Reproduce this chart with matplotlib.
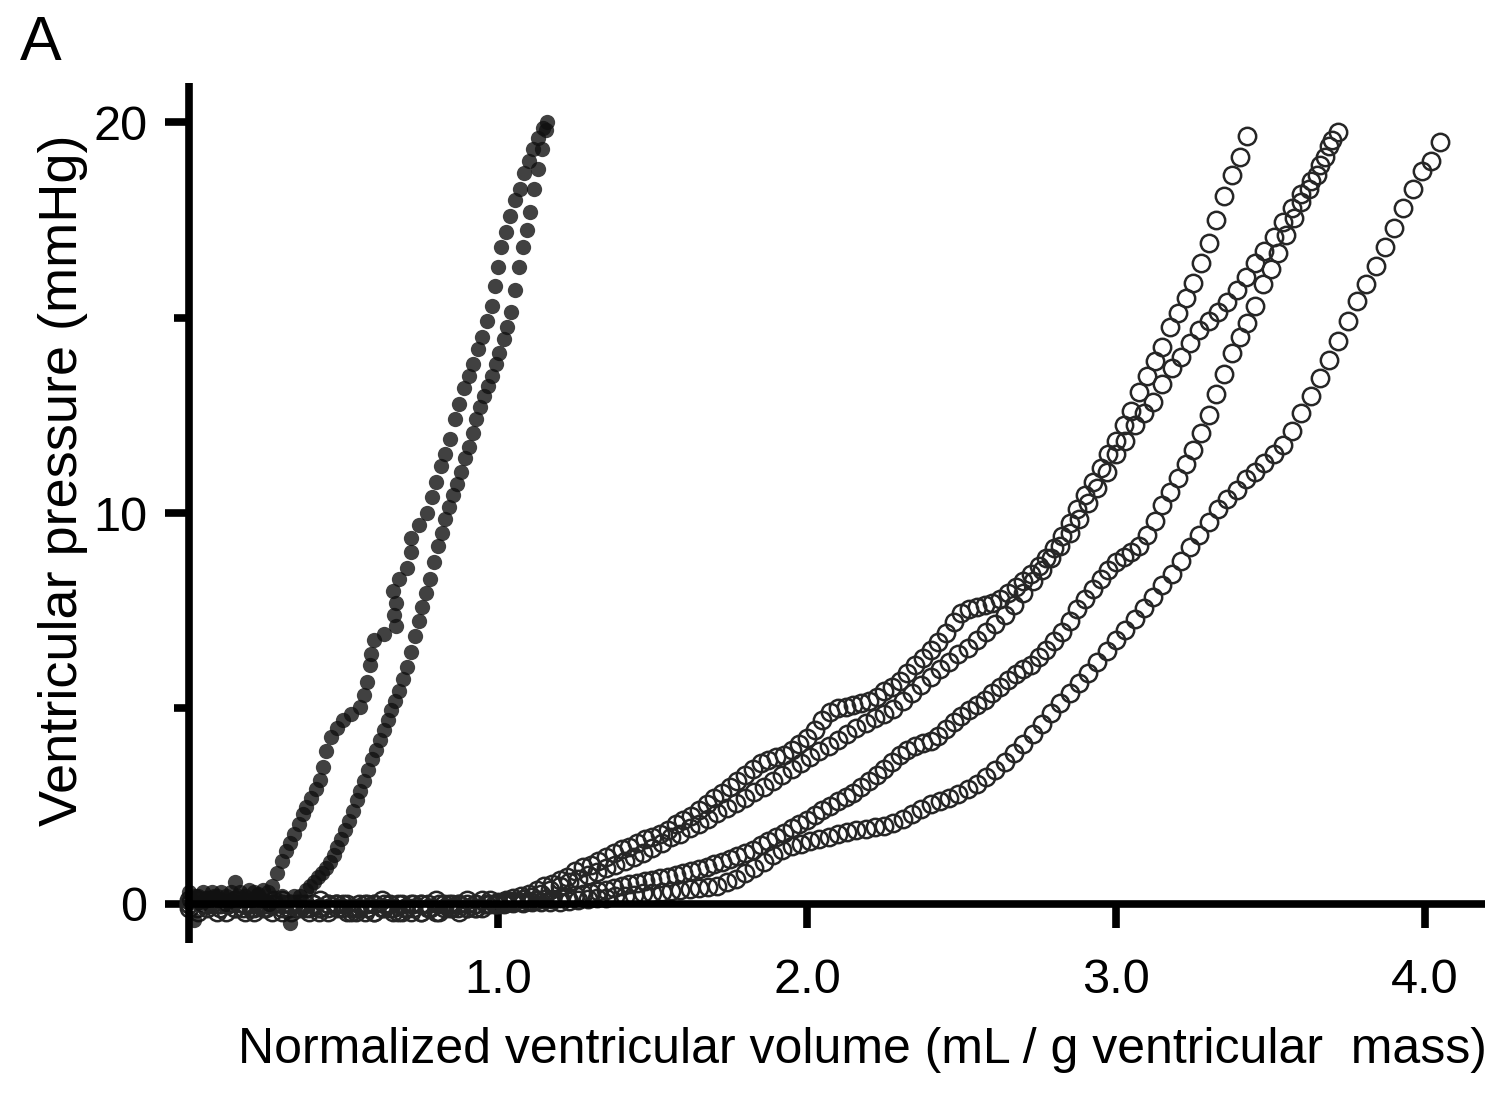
import numpy as np
import matplotlib
matplotlib.use("Agg")
import matplotlib.pyplot as plt

plt.rcParams['font.family'] = ['Liberation Sans', 'DejaVu Sans']

# Open circles: four hearts, volume infused in constant steps (mL/g per sample)
o1_dv = 0.025
o1_p = [0.1, 0.1, 0.0, 0.1, 0.0, 0.0, 0.1, 0.0, -0.1, 0.0,
        0.0, 0.1, 0.0, 0.0, -0.1, 0.0, 0.0, 0.1, 0.0, 0.0,
        0.0, -0.1, 0.0, 0.0, 0.0, 0.1, 0.0, 0.0, -0.1, 0.0,
        0.0, 0.0, 0.1, 0.0, 0.0, 0.0, 0.1, 0.0, 0.1, 0.1,
        0.05, 0.1, 0.15, 0.2, 0.25, 0.35, 0.45, 0.5, 0.6, 0.7,
        0.85, 0.95, 1.0, 1.1, 1.2, 1.3, 1.4, 1.45, 1.55, 1.65,
        1.72, 1.8, 1.9, 2.05, 2.15, 2.25, 2.4, 2.55, 2.7, 2.85,
        3.0, 3.15, 3.3, 3.45, 3.6, 3.68, 3.75, 3.82, 3.95, 4.1,
        4.25, 4.45, 4.7, 4.9, 5.0, 5.05, 5.1, 5.15, 5.2, 5.3,
        5.45, 5.55, 5.7, 5.9, 6.1, 6.3, 6.5, 6.7, 6.93, 7.2,
        7.45, 7.55, 7.6, 7.65, 7.7, 7.8, 7.95, 8.1, 8.25, 8.45,
        8.65, 8.85, 9.1, 9.4, 9.75, 10.1, 10.45, 10.8, 11.15, 11.5,
        11.85, 12.25, 12.6, 13.1, 13.5, 13.9, 14.25, 14.75, 15.12, 15.5,
        15.88, 16.4, 16.9, 17.5, 18.1, 18.65, 19.1, 19.65]

o2_dv = 0.03
o2_p = [0.0, 0.1, 0.1, 0.0, 0.0, 0.1, 0.0, -0.1, 0.0, 0.0,
        0.1, 0.0, 0.0, -0.1, -0.1, 0.0, 0.0, 0.0, -0.1, 0.0,
        0.0, 0.0, -0.1, 0.0, 0.0, 0.0, -0.1, 0.0, 0.0, 0.0,
        0.0, 0.0, 0.0, 0.0,
        0.05, 0.08, 0.12, 0.18, 0.25, 0.35, 0.45, 0.55, 0.64, 0.73,
        0.82, 0.92, 1.0, 1.1, 1.2, 1.3, 1.42, 1.55, 1.7, 1.8,
        1.93, 2.05, 2.18, 2.32, 2.45, 2.58, 2.72, 2.86, 3.0, 3.15,
        3.3, 3.45, 3.6, 3.75, 3.9, 4.05, 4.2, 4.35, 4.5, 4.62,
        4.75, 4.85, 4.98, 5.2, 5.4, 5.6, 5.8, 6.0, 6.2, 6.4,
        6.55, 6.75, 6.95, 7.15, 7.4, 7.65, 7.95, 8.25, 8.55, 8.85,
        9.15, 9.5, 9.85, 10.25, 10.65, 11.05, 11.5, 11.85, 12.25, 12.55,
        12.85, 13.3, 13.7, 14.0, 14.35, 14.68, 14.9, 15.15, 15.4, 15.7,
        16.05, 16.4, 16.7, 17.05, 17.45, 17.8, 18.15, 18.5, 18.9, 19.4,
        19.75]

o3_dv = 0.025
o3_p = [0.0, -0.1, 0.0, 0.0, -0.1, 0.0, -0.1, -0.1, 0.0, 0.0,
        -0.1, 0.0, -0.1, -0.1, 0.0, -0.1, 0.0, -0.1, -0.1, 0.0,
        -0.1, -0.2, -0.1, -0.1, -0.2, -0.1, -0.1, -0.2, -0.1, -0.1,
        -0.2, -0.1, -0.2, -0.1, -0.1, -0.2, -0.1, -0.1, -0.1, 0.0,
        0.0, 0.02, 0.04, 0.06, 0.08, 0.1, 0.12, 0.13, 0.15, 0.18,
        0.22, 0.25, 0.28, 0.32, 0.35, 0.4, 0.45, 0.5, 0.54, 0.58,
        0.62, 0.66, 0.7, 0.75, 0.8, 0.85, 0.9, 0.95, 1.02, 1.08,
        1.15, 1.22, 1.3, 1.38, 1.5, 1.6, 1.7, 1.82, 1.95, 2.05,
        2.15, 2.28, 2.4, 2.5, 2.62, 2.74, 2.85, 3.0, 3.15, 3.3,
        3.45, 3.62, 3.8, 3.95, 4.05, 4.12, 4.18, 4.3, 4.48, 4.65,
        4.8, 4.95, 5.1, 5.22, 5.4, 5.55, 5.72, 5.88, 6.0, 6.12,
        6.32, 6.5, 6.72, 6.95, 7.25, 7.55, 7.8, 8.05, 8.3, 8.55,
        8.75, 8.88, 9.0, 9.15, 9.45, 9.8, 10.2, 10.55, 10.9, 11.25,
        11.6, 12.05, 12.5, 13.05, 13.55, 14.1, 14.5, 14.85, 15.3, 15.85,
        16.25, 16.65, 17.1, 17.55, 17.95, 18.3, 18.65, 19.1, 19.55]

o4_dv = 0.03
o4_p = [-0.1, -0.2, -0.1, -0.2, -0.2, -0.1, -0.2, -0.2, -0.1, -0.2,
        -0.2, -0.2, -0.1, -0.2, -0.2, -0.2, -0.1, -0.2, -0.2, -0.2,
        -0.2, -0.1, -0.2, -0.2, -0.2, -0.2, -0.1, -0.2, -0.1, -0.1,
        -0.1, -0.1, 0.0, 0.0,
        0.0, 0.02, 0.03, 0.04, 0.05, 0.05, 0.06, 0.08, 0.1, 0.12,
        0.14, 0.16, 0.19, 0.21, 0.24, 0.27, 0.29, 0.31, 0.33, 0.35,
        0.37, 0.4, 0.43, 0.47, 0.55, 0.65, 0.78, 0.92, 1.08, 1.25,
        1.38, 1.47, 1.54, 1.6, 1.66, 1.72, 1.78, 1.84, 1.88, 1.92,
        1.96, 2.0, 2.08, 2.18, 2.3, 2.42, 2.55, 2.63, 2.72, 2.82,
        2.95, 3.08, 3.24, 3.42, 3.62, 3.85, 4.1, 4.35, 4.6, 4.88,
        5.14, 5.4, 5.65, 5.92, 6.2, 6.48, 6.75, 7.02, 7.3, 7.58,
        7.85, 8.15, 8.45, 8.78, 9.12, 9.45, 9.78, 10.1, 10.35, 10.6,
        10.88, 11.05, 11.28, 11.5, 11.75, 12.1, 12.55, 13.0, 13.45, 13.92,
        14.4, 14.92, 15.42, 15.85, 16.32, 16.8, 17.3, 17.8, 18.3, 18.75,
        19.0, 19.5]

# Filled circles: two hearts (irregular sampling, read point by point)
f1_v = [0.0, 0.015, 0.03, 0.045, 0.06, 0.075, 0.09, 0.105, 0.12, 0.135,
        0.15, 0.165, 0.18, 0.195, 0.21, 0.225, 0.24, 0.255, 0.27,
        0.285, 0.30, 0.315, 0.327, 0.34, 0.355, 0.37, 0.38, 0.395, 0.41,
        0.424, 0.434, 0.445, 0.46, 0.48, 0.50, 0.525, 0.553, 0.565, 0.575,
        0.585, 0.59, 0.60, 0.63, 0.67, 0.665, 0.67, 0.66, 0.68, 0.705,
        0.72, 0.72, 0.745, 0.77, 0.785, 0.80, 0.815, 0.83, 0.845, 0.86,
        0.875, 0.89, 0.905, 0.92, 0.935, 0.95, 0.965, 0.98, 0.99, 1.0,
        1.01, 1.025, 1.04, 1.055, 1.07, 1.085, 1.10, 1.115, 1.13, 1.145, 1.16]
f1_p = [0.3, -0.4, 0.2, 0.3, 0.1, 0.3, 0.2, 0.3, 0.2, 0.3,
        0.56, 0.3, 0.2, 0.35, 0.3, 0.25, 0.35, 0.3, 0.45,
        0.79, 1.1, 1.35, 1.56, 1.8, 2.05, 2.3, 2.48, 2.7, 2.95,
        3.17, 3.5, 3.9, 4.27, 4.5, 4.7, 4.85, 5.04, 5.35, 5.68,
        6.1, 6.4, 6.75, 6.9, 7.1, 7.4, 7.7, 8.0, 8.3, 8.6,
        9.0, 9.35, 9.7, 10.0, 10.4, 10.8, 11.2, 11.5, 11.9, 12.4,
        12.8, 13.2, 13.5, 13.8, 14.2, 14.5, 14.9, 15.3, 15.8, 16.3,
        16.8, 17.2, 17.6, 18.0, 18.3, 18.7, 19.0, 19.3, 19.6, 19.85, 20.0]

f2_v = [0.00, 0.02, 0.04, 0.06, 0.08, 0.10, 0.12, 0.14, 0.16, 0.18,
        0.20, 0.22, 0.24, 0.26, 0.28, 0.30, 0.327, 0.34, 0.36,
        0.380, 0.393, 0.405, 0.418, 0.430, 0.443, 0.455, 0.468, 0.480, 0.493,
        0.505, 0.518, 0.530, 0.543, 0.555, 0.568, 0.580, 0.593, 0.605, 0.618,
        0.630, 0.643, 0.655, 0.668, 0.680, 0.693, 0.705, 0.718, 0.730, 0.743,
        0.755, 0.768, 0.780, 0.793, 0.805, 0.818, 0.830, 0.843, 0.855, 0.868,
        0.880, 0.893, 0.905, 0.918, 0.930, 0.943, 0.955, 0.968, 0.980, 0.993,
        1.005, 1.018, 1.030, 1.043, 1.055, 1.068, 1.080, 1.093, 1.105, 1.118,
        1.130, 1.143, 1.155]
f2_p = [0.1, 0.2, 0.0, 0.1, 0.2, 0.1, 0.0, 0.1, 0.2, 0.1,
        0.1, 0.2, 0.1, 0.0, 0.1, 0.2, -0.5, 0.2, 0.2,
        0.35, 0.45, 0.55, 0.68, 0.8, 0.92, 1.07, 1.25, 1.45, 1.65,
        1.88, 2.12, 2.38, 2.65, 2.9, 3.15, 3.42, 3.7, 3.95, 4.2,
        4.45, 4.7, 4.95, 5.2, 5.45, 5.75, 6.05, 6.45, 6.85, 7.25,
        7.6, 7.95, 8.3, 8.75, 9.15, 9.5, 9.85, 10.15, 10.45, 10.75,
        11.05, 11.4, 11.7, 12.05, 12.4, 12.7, 13.0, 13.25, 13.5, 13.8,
        14.1, 14.45, 14.75, 15.15, 15.7, 16.3, 16.8, 17.25, 17.7, 18.3,
        18.8, 19.3, 19.8]

x_ticks = [1.0, 2.0, 3.0, 4.0]
x_labels = ['1.0', '2.0', '3.0', '4.0']
y_ticks = [0, 10, 20]
y_minor = [5, 15]

fig = plt.figure(figsize=(15.03, 11.01), dpi=100)
ax = fig.add_axes([0.1257, 0.1435, 0.8623, 0.7811])

open_sets = [(o1_dv, o1_p), (o2_dv, o2_p), (o3_dv, o3_p), (o4_dv, o4_p)]
for dv, p in open_sets:
    vol = np.arange(len(p)) * dv
    ax.plot(vol, p, 'o', ms=12.5, mfc='none', mec='#262626', mew=1.8, clip_on=False)

for v, p in [(f1_v, f1_p), (f2_v, f2_p)]:
    ax.plot(v, p, 'o', ms=11, color='#111111', alpha=0.8, mec='none', clip_on=False)

ax.set_xlim(0, 4.194)
ax.set_ylim(-1.0, 21.0)

for side in ['top', 'right']:
    ax.spines[side].set_visible(False)
ax.spines['bottom'].set_position(('data', 0))
for side in ['left', 'bottom']:
    ax.spines[side].set_linewidth(5.5)
    ax.spines[side].set_capstyle('butt')

ax.set_xticks(x_ticks)
ax.set_xticklabels(x_labels)
ax.set_yticks(y_ticks)
ax.set_yticks(y_minor, minor=True)
ax.tick_params(axis='both', which='major', length=17, width=5.5, labelsize=35)
ax.tick_params(axis='y', which='minor', length=11, width=5.5)
ax.tick_params(axis='x', which='major', pad=22)
ax.tick_params(axis='y', which='major', pad=13)

fig.text(862 / 1503, 1 - 1063 / 1101, 'Normalized ventricular volume (mL / g ventricular  mass)',
         ha='center', va='baseline', fontsize=36)
fig.text(77 / 1503, 1 - 480 / 1101, 'Ventricular pressure (mmHg)',
         ha='center', va='baseline', rotation=90, rotation_mode='anchor', fontsize=39)
fig.text(20 / 1503, 1 - 60 / 1101, 'A', ha='left', va='baseline', fontsize=45)

fig.savefig('out.png', dpi=100)
